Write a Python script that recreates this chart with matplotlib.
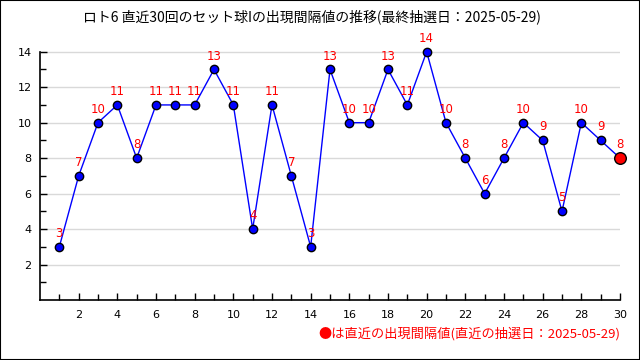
import matplotlib.pyplot as plt
from matplotlib.patches import Rectangle

plt.rcParams['font.family'] = ['Noto Sans CJK JP', 'DejaVu Sans']

# 直近30回の出現間隔値
kai = list(range(1, 31))
kankaku = [3, 7, 10, 11, 8, 11, 11, 11, 13, 11, 4, 11, 7, 3, 13,
           10, 10, 13, 11, 14, 10, 8, 6, 8, 10, 9, 5, 10, 9, 8]
saishu_bi = "2025-05-29"

fig = plt.figure(figsize=(6.4, 3.6), dpi=100)
fig.patches.append(Rectangle((0, 0), 1, 1, transform=fig.transFigure,
                             fill=False, edgecolor='black', linewidth=1.5))

ax = fig.add_axes([40 / 640, 60 / 360, 580 / 640, 266 / 360])

ax.plot(kai, kankaku, color='blue', linewidth=1, zorder=3)
ax.scatter(kai[:-1], kankaku[:-1], s=36, color='blue', edgecolors='black',
           linewidths=1, zorder=4)
ax.scatter(kai[-1:], kankaku[-1:], s=70, color='red', edgecolors='black',
           linewidths=1, zorder=5, clip_on=False)

for x, y in zip(kai, kankaku):
    ax.annotate(str(y), (x, y), xytext=(0, 5), textcoords='offset points',
                ha='center', va='bottom', color='red', fontsize=8.5,
                family=['DejaVu Sans'], zorder=6)

ax.set_xlim(0, 30)
ax.set_ylim(0, 15)
ax.set_xticks(range(2, 31, 2))
ax.set_xticks(range(1, 31, 2), minor=True)
ax.set_yticks(range(2, 15, 2))
ax.set_yticks(range(1, 15, 2), minor=True)
ax.tick_params(which='both', direction='in', labelsize=8, width=1)
ax.tick_params(which='major', length=5)
ax.tick_params(which='minor', length=4)
ax.tick_params(axis='x', pad=7)
ax.tick_params(axis='y', pad=6)
for lab in ax.get_xticklabels() + ax.get_yticklabels():
    lab.set_family('DejaVu Sans')

ax.grid(axis='y', which='major', color='#d9d9d9', linewidth=1, zorder=0)
ax.spines['top'].set_visible(False)
ax.spines['right'].set_visible(False)
ax.spines['left'].set_bounds(0, 14)
ax.spines['left'].set_linewidth(1.2)
ax.spines['bottom'].set_linewidth(1.2)

fig.text(312 / 640, 1 - 17 / 360,
         "ロト6 直近30回のセット球Iの出現間隔値の推移(最終抽選日：" + saishu_bi + ")",
         ha='center', va='center', fontsize=10)
fig.text(620 / 640, 1 - 334 / 360,
         "●は直近の出現間隔値(直近の抽選日：" + saishu_bi + ")",
         ha='right', va='center', fontsize=9.5, color='red')

fig.savefig('out.png', dpi=100)
